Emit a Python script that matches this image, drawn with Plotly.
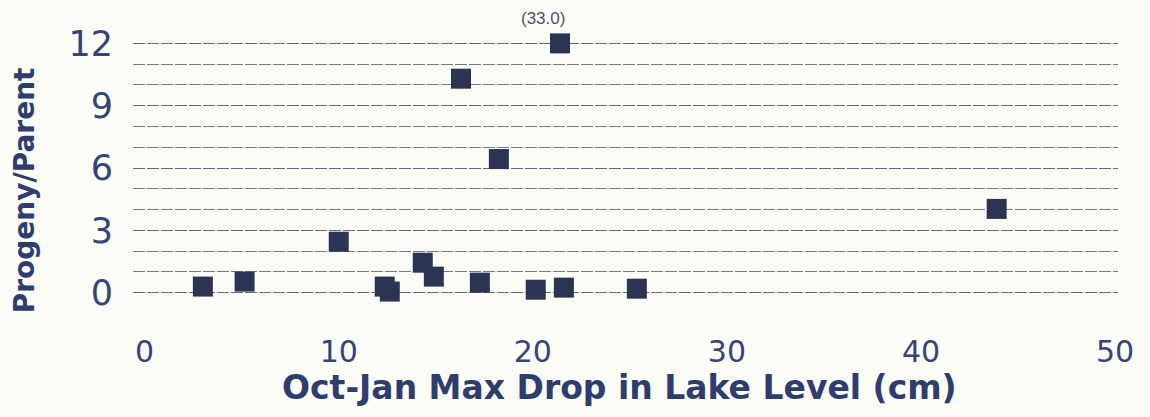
import plotly.graph_objects as go

# Data
lake_drop_cm = [3.0, 5.15, 10.0, 12.37, 12.63, 14.33, 14.9, 16.3, 17.27, 18.25, 20.15, 21.4, 21.6, 25.36, 43.9]
progeny_per_parent = [0.29, 0.53, 2.45, 0.29, 0.05, 1.44, 0.77, 10.3, 0.48, 6.43, 0.14, 33.0, 0.24, 0.19, 4.03]
y_cap = 12
x_ticks = [0, 10, 20, 30, 40, 50]
y_ticks = [0, 3, 6, 9, 12]

navy = "#2f3c6e"
marker_col = "#2b3453"
bg = "#fcfcf7"

y_plot = [min(v, y_cap) for v in progeny_per_parent]

fig = go.Figure()
fig.add_trace(go.Scatter(
    x=lake_drop_cm, y=y_plot, mode="markers",
    marker=dict(symbol="square", size=20, color=marker_col, line=dict(width=0)),
    showlegend=False, cliponaxis=False,
))

annotations = []
for xv, yv in zip(lake_drop_cm, progeny_per_parent):
    if yv > y_cap:
        annotations.append(dict(
            x=xv, y=y_cap, xref="x", yref="y", text=f"({yv:.1f})", showarrow=False,
            xshift=-17, yshift=25, font=dict(family="Liberation Sans", size=17, color="#4a5170"),
        ))

annotations.append(dict(
    x=0.494, y=-0.312, xref="paper", yref="paper", text="<b>Oct-Jan Max Drop in Lake Level (cm)</b>",
    showarrow=False, xanchor="center", yanchor="middle",
    font=dict(family="DejaVu Sans", size=33, color=navy),
))
annotations.append(dict(
    x=-0.11, y=0.416, xref="paper", yref="paper", text="<b>Progeny/Parent</b>",
    showarrow=False, xanchor="center", yanchor="middle", textangle=-90,
    font=dict(family="DejaVu Sans", size=28, color=navy),
))

fig.update_layout(
    width=1150, height=417,
    margin=dict(l=133, r=32, t=33, b=114),
    paper_bgcolor=bg, plot_bgcolor=bg,
    annotations=annotations,
    font=dict(family="DejaVu Sans", color=navy),
)
fig.update_xaxes(
    range=[-0.6, 50.15], tickvals=x_ticks, showgrid=False, zeroline=False, showline=False,
    ticks="outside", ticklen=0, ticklabelstandoff=22,
    tickfont=dict(family="DejaVu Sans", size=30, color="#36447a"),
)
fig.update_yaxes(
    range=[-0.5, 12.5], tickvals=y_ticks, showgrid=True, gridcolor="#656a7a", gridwidth=1,
    griddash="12px,2px",
    minor=dict(dtick=1, showgrid=True, gridcolor="#737887", gridwidth=1, griddash="12px,2px"),
    zeroline=False, showline=False, ticks="outside", ticklen=0, ticklabelstandoff=12,
    tickfont=dict(family="DejaVu Sans", size=35, color="#36447a"),
)

fig.write_html("out.html")
